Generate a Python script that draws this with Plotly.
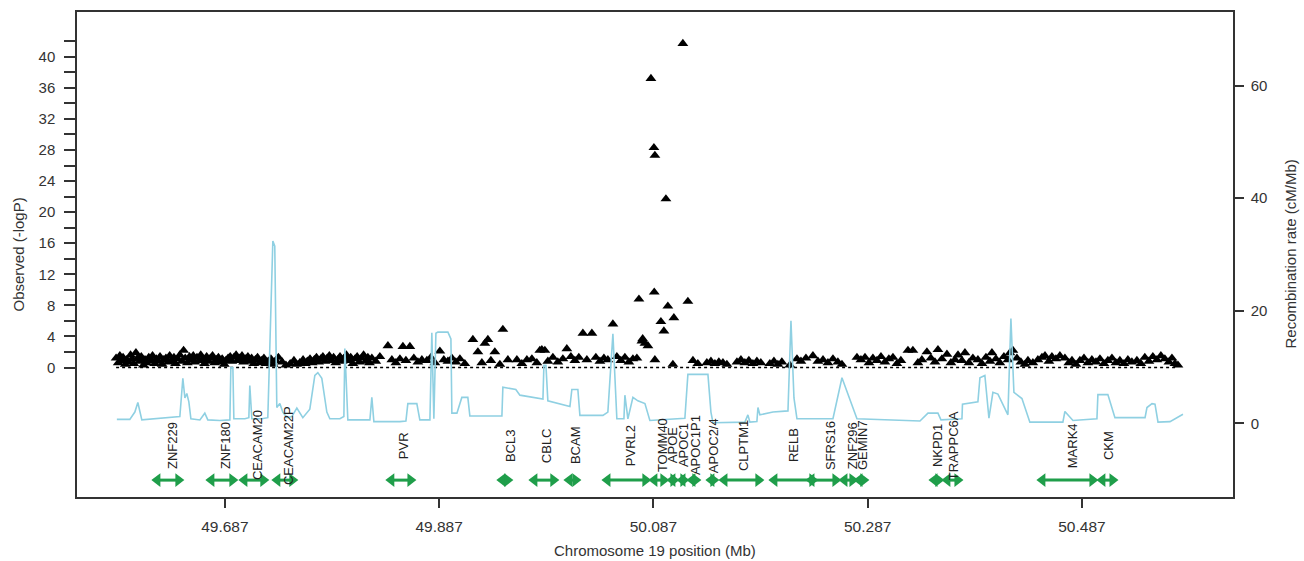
import plotly.graph_objects as go

# ---------------- data ----------------
# SNP association (-log10 P) by chromosome 19 position (Mb)
snp_pos = [
    49.5855, 49.5875, 49.5890, 49.5905, 49.5920, 49.5940, 49.5955, 49.5970, 49.5990, 49.6005,
    49.6020, 49.6040, 49.6055, 49.6075, 49.6090, 49.6110, 49.6125, 49.6140, 49.6160, 49.6180,
    49.6195, 49.6215, 49.6230, 49.6250, 49.6265, 49.6285, 49.6300, 49.6320, 49.6340, 49.6355,
    49.6375, 49.6395, 49.6410, 49.6430, 49.6450, 49.6470, 49.6485, 49.6500, 49.6520, 49.6540,
    49.6555, 49.6575, 49.6590, 49.6610, 49.6630, 49.6645, 49.6665, 49.6680, 49.6700, 49.6720,
    49.6735, 49.6755, 49.6775, 49.6790, 49.6810, 49.6830, 49.6845, 49.6865, 49.6880, 49.6900,
    49.6920, 49.6935, 49.6955, 49.6975, 49.6990, 49.7010, 49.7030, 49.7045, 49.7065, 49.7085,
    49.7100, 49.7120, 49.7140, 49.7155, 49.7175, 49.7195, 49.7215, 49.7235, 49.7255, 49.7275,
    49.7300, 49.7320, 49.7345, 49.7370, 49.7405, 49.7440, 49.7480, 49.7515, 49.7540, 49.7570,
    49.7600, 49.7620, 49.7640, 49.7665, 49.7685, 49.7705, 49.7725, 49.7745, 49.7765, 49.7785,
    49.7805, 49.7825, 49.7845, 49.7865, 49.7885, 49.7905, 49.7925, 49.7945, 49.7965, 49.7985,
    49.8005, 49.8025, 49.8045, 49.8065, 49.8085, 49.8105, 49.8125, 49.8145, 49.8165, 49.8185,
    49.8205, 49.8220,
    49.8242, 49.8279, 49.8317, 49.8392, 49.8429, 49.8466, 49.8504, 49.8532, 49.8560, 49.8597,
    49.8634, 49.8672, 49.8709, 49.8756, 49.8793, 49.8830, 49.8877, 49.8914, 49.8952, 49.8989,
    49.9026, 49.9064, 49.9110, 49.9185, 49.9232, 49.9269, 49.9297, 49.9325, 49.9353, 49.9390,
    49.9437, 49.9465, 49.9512, 49.9596, 49.9642, 49.9689, 49.9736, 49.9782, 49.9810, 49.9829,
    49.9857, 49.9885, 49.9932, 49.9978, 50.0025, 50.0062, 50.0100, 50.0137, 50.0174, 50.0212,
    50.0249, 50.0296, 50.0333, 50.0371, 50.0408, 50.0445, 50.0492, 50.0529, 50.0566, 50.0604,
    50.0641, 50.0679, 50.0716, 50.0735, 50.0763, 50.0770, 50.0791, 50.0819, 50.0847, 50.0875,
    50.0878, 50.0884, 50.0884, 50.0940, 50.0968, 50.0987, 50.1005, 50.1061, 50.1145, 50.1192,
    50.1052, 50.1239, 50.1285, 50.1369, 50.1407, 50.1444, 50.1481, 50.1519, 50.1556, 50.1650,
    50.1687, 50.1724, 50.1761, 50.1799, 50.1836, 50.1873, 50.1957, 50.1995, 50.2032, 50.2069,
    50.2144, 50.2210, 50.2247, 50.2294, 50.2359, 50.2406, 50.2453, 50.2499, 50.2546, 50.2592,
    50.2630, 50.2770, 50.2807, 50.2845, 50.2882, 50.2919, 50.2957, 50.2994, 50.3031, 50.3068,
    50.3106, 50.3143, 50.3180, 50.3246, 50.3292, 50.3339, 50.3376, 50.3423, 50.3460, 50.3498,
    50.3526, 50.3563, 50.3610, 50.3647, 50.3685, 50.3713, 50.3750, 50.3778, 50.3815, 50.3852,
    50.3899, 50.3937, 50.3974, 50.4011, 50.4030, 50.4067, 50.4104, 50.4142, 50.4179, 50.4198,
    50.4226, 50.4263, 50.4300, 50.4338, 50.4366, 50.4412, 50.4459, 50.4497, 50.4525, 50.4562,
    50.4590, 50.4627, 50.4664, 50.4711, 50.4748, 50.4777, 50.4814, 50.4851, 50.4889, 50.4926,
    50.4963, 50.5001, 50.5038, 50.5075, 50.5112, 50.5150, 50.5187, 50.5224, 50.5262, 50.5299,
    50.5336, 50.5383, 50.5420, 50.5457, 50.5495, 50.5532, 50.5570, 50.5607, 50.5644, 50.5682,
    50.5710, 50.5738, 50.5766,
]
snp_logp = [
    1.2, 0.6, 1.5, 0.9, 1.3, 0.4, 1.0, 0.7, 1.6, 1.1,
    0.5, 1.9, 1.2, 0.8, 1.4, 0.3, 1.0, 0.6, 1.3, 0.9,
    1.5, 0.5, 1.1, 0.8, 1.4, 0.4, 1.0, 1.2, 0.7, 1.5,
    0.9, 1.3, 0.5, 1.1, 1.6, 0.8, 2.2, 1.2, 0.6, 1.4,
    1.0, 1.5, 0.7, 1.3, 0.9, 1.6, 1.1, 0.5, 1.4, 0.8,
    1.2, 1.5, 0.6, 1.0, 1.3, 0.7, 1.1, 0.4, 0.9, 1.2,
    1.4, 0.8, 1.3, 1.6, 0.9, 1.2, 1.5, 0.7, 1.1, 1.4,
    0.8, 1.2, 0.5, 1.0, 1.3, 0.6, 0.9, 1.2, 0.5, 0.8,
    1.1, 0.4, 0.9, 1.3, 0.7, 0.3, 0.5, 0.9, 0.4, 0.6,
    1.0, 0.5, 0.8, 1.1, 0.6, 1.0, 1.3, 0.7, 1.1, 1.4,
    0.8, 1.2, 1.5, 0.9, 1.3, 0.6, 1.0, 1.4, 0.8, 1.2,
    1.6, 0.9, 1.3, 0.5, 1.1, 1.4, 0.7, 1.2, 1.6, 0.8,
    1.3, 0.6,
    1.2, 0.8, 1.4, 2.8, 1.0, 0.6, 1.1, 2.7, 0.9, 2.7,
    1.2, 0.7, 1.0, 0.9, 1.3, 0.6, 2.1, 1.0, 0.8, 1.2,
    0.7, 1.1, 0.5, 3.6, 2.0, 0.6, 3.1, 3.6, 0.9, 2.0,
    0.4, 4.9, 1.0, 1.0, 0.5, 1.0, 1.1, 0.6, 2.2, 2.3,
    2.2, 0.8, 1.3, 0.7, 1.1, 2.4, 1.4, 0.9, 1.3, 4.4,
    1.0, 4.4, 1.3, 0.8, 1.2, 1.0, 5.6, 1.4, 0.9, 1.3,
    0.7, 1.1, 1.2, 8.8, 3.4, 3.7, 3.1, 2.8, 37.2, 28.3,
    9.7, 27.3, 1.0, 5.9, 4.7, 21.7, 7.9, 6.4, 41.7, 8.5,
    0.4, 0.9, 0.5, 0.6, 0.8, 0.5, 0.7, 0.6, 0.4, 0.7,
    1.0, 0.6, 0.9, 0.5, 0.8, 0.6, 0.5, 0.8, 0.4, 0.7,
    0.3, 1.1, 0.8, 1.2, 1.5, 0.8, 1.0, 0.6, 1.1, 0.7,
    0.4, 1.3, 1.0, 1.3, 0.6, 1.2, 0.9, 1.4, 0.7, 1.1,
    1.3, 0.5, 0.9, 2.2, 2.2, 0.6, 1.0, 2.0, 1.2, 0.7,
    2.3, 1.1, 1.7, 0.6, 1.0, 1.6, 0.9, 1.9, 0.6, 1.2,
    1.0, 0.5, 1.3, 0.8, 1.9, 1.1, 0.6, 1.4, 1.0, 1.9,
    2.2, 1.2, 0.7, 0.4, 0.9, 0.6, 1.0, 1.3, 1.5, 0.8,
    1.4, 1.1, 1.5, 1.2, 0.6, 0.9, 0.4, 0.9, 1.2, 0.6,
    1.0, 0.7, 1.1, 0.5, 0.9, 1.2, 0.6, 0.9, 0.5, 1.0,
    0.7, 0.9, 0.5, 1.3, 0.8, 1.4, 1.0, 1.5, 1.1, 0.7,
    1.2, 0.5, 0.3,
]

# Recombination rate (cM/Mb)
recomb_pos = [
    49.5862, 49.5983, 49.6030, 49.6058, 49.6095, 49.6263, 49.6403, 49.6450, 49.6478, 49.6497,
    49.6515, 49.6534, 49.6553, 49.6637, 49.6683, 49.6711, 49.6823, 49.6917, 49.6926, 49.6945,
    49.6954, 49.7057, 49.7094, 49.7103, 49.7122, 49.7215, 49.7271, 49.7318, 49.7336, 49.7355,
    49.7383, 49.7411, 49.7449, 49.7495, 49.7542, 49.7598, 49.7663, 49.7710, 49.7738, 49.7775,
    49.7822, 49.7850, 49.7944, 49.7981, 49.7990, 49.8018, 49.8130, 49.8224, 49.8242, 49.8261,
    49.8504, 49.8560, 49.8578, 49.8662, 49.8690, 49.8784, 49.8802, 49.8821, 49.8840, 49.8858,
    49.8952, 49.8980, 49.8989, 49.9036, 49.9082, 49.9138, 49.9157, 49.9456, 49.9465, 49.9586,
    49.9624, 49.9773, 49.9839, 49.9848, 49.9867, 49.9885, 50.0091, 50.0109, 50.0165, 50.0184,
    50.0399, 50.0445, 50.0492, 50.0529, 50.0595, 50.0604, 50.0632, 50.0679, 50.0725, 50.0791,
    50.0837, 50.1164, 50.1192, 50.1379, 50.1407, 50.1426, 50.1724, 50.1752, 50.1771, 50.1836,
    50.1846, 50.1864, 50.1986, 50.2126, 50.2154, 50.2182, 50.2210, 50.2546, 50.2630, 50.2770,
    50.3358, 50.3433, 50.3526, 50.3554, 50.3750, 50.3755, 50.3899, 50.3918, 50.3964, 50.4002,
    50.4039, 50.4086, 50.4179, 50.4207, 50.4235, 50.4310, 50.4384, 50.4692, 50.4711, 50.4786,
    50.5010, 50.5019, 50.5112, 50.5178, 50.5459, 50.5477, 50.5524, 50.5552, 50.5580, 50.5692,
    50.5813,
]
recomb_rate = [
    0.7, 0.7, 2.0, 3.7, 0.6, 0.9, 1.2, 1.2, 8.0, 4.5,
    5.3, 3.8, 0.8, 0.6, 1.8, 0.6, 0.5, 0.6, 9.9, 9.9,
    0.8, 0.8, 1.0, 6.7, 0.8, 0.8, 1.0, 32.4, 31.5, 2.8,
    3.5, 2.0, 1.0, 1.2, 2.7, 1.0, 2.5, 8.5, 9.0, 8.0,
    2.0, 0.8, 0.8, 1.2, 13.3, 0.6, 0.6, 0.6, 4.6, 0.3,
    0.3, 0.4, 3.5, 3.5, 0.6, 0.6, 16.1, 0.8, 16.0, 16.2,
    16.2, 15.0, 1.8, 1.8, 4.6, 4.6, 1.3, 1.3, 6.4, 6.0,
    5.0, 4.5, 4.3, 10.3, 10.3, 4.0, 3.0, 6.0, 6.0, 1.4,
    1.4, 2.0, 15.9, 0.8, 0.8, 5.0, 0.8, 4.6, 4.0, 3.5,
    0.5, 0.9, 8.7, 8.7, 2.0, 0.1, 0.2, 1.5, 0.2, 0.3,
    2.8, 1.5, 2.0, 2.2, 18.2, 4.5, 0.8, 0.8, 8.1, 0.8,
    0.4, 1.8, 1.8, 0.6, 0.8, 3.4, 3.8, 8.1, 8.5, 0.9,
    5.5, 5.2, 1.5, 18.6, 5.5, 4.4, 0.2, 0.2, 2.1, 0.5,
    0.8, 5.1, 5.1, 1.0, 1.0, 2.8, 3.5, 3.4, 0.2, 0.3,
    1.6,
]

# Genes: name, start (Mb), end (Mb), label position (Mb)
gene_names = ["ZNF229", "ZNF180", "CEACAM20", "CEACAM22P", "PVR", "BCL3", "CBLC", "BCAM",
              "PVRL2", "TOMM40", "APOE", "APOC1", "APOC1P1", "APOC2/4", "CLPTM1", "RELB",
              "SFRS16", "ZNF296", "GEMIN7", "NKPD1", "TRAPPC6A", "MARK4", "CKM"]
gene_start = [49.6198, 49.6702, 49.7010, 49.7318, 49.8382, 49.9418, 49.9717, 50.0044,
              50.0399, 50.0837, 50.1005, 50.1099, 50.1192, 50.1369, 50.1491, 50.1957,
              50.2303, 50.2611, 50.2751, 50.3451, 50.3572, 50.4459, 50.5019]
gene_end = [49.6478, 49.6982, 49.7271, 49.7542, 49.8644, 49.9549, 49.9978, 50.0184,
            50.0837, 50.1005, 50.1099, 50.1192, 50.1304, 50.1472, 50.1892, 50.2396,
            50.2611, 50.2770, 50.2872, 50.3572, 50.3750, 50.5010, 50.5197]
gene_label_pos = [49.6375, 49.6870, 49.7169, 49.7458, 49.8532, 49.9530, 49.9867, 50.0137,
                  50.0651, 50.0949, 50.1043, 50.1145, 50.1257, 50.1426, 50.1705, 50.2172,
                  50.2517, 50.2723, 50.2816, 50.3516, 50.3666, 50.4777, 50.5112]

x_tick_vals = [49.687, 49.887, 50.087, 50.287, 50.487]
x_tick_text = ["49.687", "49.887", "50.087", "50.287", "50.487"]
left_tick_vals = list(range(0, 43, 2))
left_tick_text = [str(v) if v % 4 == 0 else "" for v in left_tick_vals]
right_tick_vals = [0, 20, 40, 60]

GENE_TRACK_Y = -10.1   # recombination-axis units
GENE_LABEL_Y = -3.9

# ---------------- figure ----------------
FONT = "Liberation Sans, Arial, Helvetica, sans-serif"
GREEN = "#1f9e4a"
BLUE = "#8fd0e2"

fig = go.Figure()

# dotted zero line
fig.add_trace(go.Scatter(
    x=[snp_pos[0], snp_pos[-1]], y=[0, 0], mode="lines",
    line=dict(color="black", width=1.6, dash="dot"), yaxis="y", hoverinfo="skip"))

# SNPs
fig.add_trace(go.Scatter(
    x=snp_pos, y=snp_logp, mode="markers", yaxis="y",
    marker=dict(symbol="triangle-up", size=9.5, color="black", line=dict(width=0))))

# recombination rate
fig.add_trace(go.Scatter(
    x=recomb_pos, y=recomb_rate, mode="lines", yaxis="y2",
    line=dict(color=BLUE, width=1.6)))

# gene arrows
head = 0.0042
for s, e in zip(gene_start, gene_end):
    fig.add_trace(go.Scatter(
        x=[s + head, e - head], y=[GENE_TRACK_Y, GENE_TRACK_Y], mode="lines", yaxis="y2",
        line=dict(color=GREEN, width=3), hoverinfo="skip"))
    fig.add_trace(go.Scatter(
        x=[s + head, e - head], y=[GENE_TRACK_Y, GENE_TRACK_Y], mode="markers", yaxis="y2",
        marker=dict(symbol=["triangle-left", "triangle-right"], size=12, color=GREEN,
                    line=dict(width=0)), hoverinfo="skip"))

annotations = []
for name, lp in zip(gene_names, gene_label_pos):
    annotations.append(dict(
        x=lp, y=GENE_LABEL_Y, xref="x", yref="y2", text=name, showarrow=False,
        textangle=-90, xanchor="center", yanchor="middle",
        font=dict(family=FONT, size=13, color="#222222")))

annotations += [
    dict(x=0.5, y=0, xref="paper", yref="paper", yanchor="middle", yshift=-53,
         text="Chromosome 19 position (Mb)", showarrow=False,
         font=dict(family=FONT, size=15, color="#333333")),
    dict(x=0, y=0.5, xref="paper", yref="paper", xanchor="center", xshift=-59,
         text="Observed (-logP)", textangle=-90, showarrow=False,
         font=dict(family=FONT, size=15, color="#333333")),
    dict(x=1, y=0.5, xref="paper", yref="paper", xanchor="center", xshift=57,
         text="Recombination rate (cM/Mb)", textangle=-90, showarrow=False,
         font=dict(family=FONT, size=15, color="#333333")),
]

fig.update_layout(
    width=1304, height=561,
    margin=dict(l=77, r=71, t=10, b=64),
    paper_bgcolor="white", plot_bgcolor="white",
    showlegend=False,
    font=dict(family=FONT, size=15, color="#333333"),
    xaxis=dict(range=[49.549, 50.628], tickvals=x_tick_vals, ticktext=x_tick_text,
               ticks="outside", ticklen=9, tickwidth=1.5, tickcolor="#333333",
               ticklabelstandoff=6,
               showline=True, linecolor="#333333", linewidth=1.5, mirror=True,
               showgrid=False, zeroline=False, tickfont=dict(size=15.5)),
    yaxis=dict(range=[-16.67, 45.77], tickvals=left_tick_vals, ticktext=left_tick_text,
               ticks="outside", ticklen=11, tickwidth=1.5, tickcolor="#333333",
               ticklabelstandoff=6,
               showline=True, linecolor="#333333", linewidth=1.5, mirror=False,
               showgrid=False, zeroline=False, tickfont=dict(size=15)),
    yaxis2=dict(range=[-13.10, 73.10], overlaying="y", side="right",
                tickvals=right_tick_vals, ticks="outside", ticklen=9, tickwidth=1.5,
                tickcolor="#333333", ticklabelstandoff=4,
                showline=True, linecolor="#333333", linewidth=1.5,
                showgrid=False, zeroline=False, tickfont=dict(size=15)),
    annotations=annotations,
)

fig.write_html("out.html")
